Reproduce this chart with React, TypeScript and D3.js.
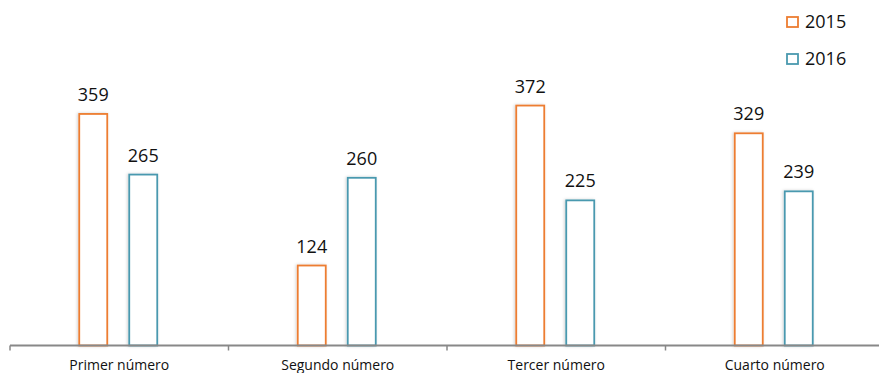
import React from "react";
import * as d3 from "d3";

const categories = ["Primer número", "Segundo número", "Tercer número", "Cuarto número"];
const seriesNames = ["2015", "2016"];
const values2015 = [359, 124, 372, 329];
const values2016 = [265, 260, 225, 239];
const seriesColors = ["#ED7D31", "#4A99AF"];

const W = 879;
const H = 373;
const baseY = 345.5;
const FONT = "'Open Sans', 'DejaVu Sans', sans-serif";

export default function App() {
  const seriesValues = [values2015, values2016];

  const x = d3.scaleBand<string>().domain(categories).range([10, 884]).padding(0);
  const xSub = d3
    .scaleBand<string>()
    .domain(seriesNames)
    .range([-40, 38])
    .paddingInner(0.44)
    .paddingOuter(0);
  const y = d3.scaleLinear().domain([0, 400]).range([baseY, 87.5]);

  const tickXs = categories.map((c) => x(c) as number).concat([x.range()[1]]);

  return (
    <svg
      width={W}
      height={H}
      style={{ position: "absolute", left: 0, top: 0, background: "#fff" }}
    >
      <defs>
        <filter id="barShadow" x="-30%" y="-10%" width="160%" height="120%">
          <feDropShadow dx="-1" dy="0" stdDeviation="1.5" floodColor="#000" floodOpacity="0.18" />
        </filter>
      </defs>

      {categories.map((cat, ci) => {
        const cx = (x(cat) as number) + x.bandwidth() / 2;
        return (
          <g key={cat}>
            {seriesNames.map((s, si) => {
              const v = seriesValues[si][ci];
              const bx = cx + (xSub(s) as number);
              const by = y(v);
              return (
                <g key={s}>
                  <rect
                    x={bx}
                    y={by}
                    width={xSub.bandwidth()}
                    height={baseY - by}
                    fill="#fff"
                    stroke={seriesColors[si]}
                    strokeWidth={1.8}
                    filter="url(#barShadow)"
                  />
                  <text
                    x={bx + xSub.bandwidth() / 2}
                    y={by - 13}
                    textAnchor="middle"
                    fontFamily={FONT}
                    fontSize={18}
                    fill="#111"
                  >
                    {v}
                  </text>
                </g>
              );
            })}
            <text
              x={cx}
              y={370}
              textAnchor="middle"
              fontFamily={FONT}
              fontSize={14}
              fill="#111"
            >
              {cat}
            </text>
          </g>
        );
      })}

      <line x1={10} x2={W} y1={baseY} y2={baseY} stroke="#888" strokeWidth={2} />
      {tickXs.map((tx, i) => (
        <line key={i} x1={tx} x2={tx} y1={baseY} y2={baseY + 5} stroke="#888" strokeWidth={1.5} />
      ))}

      {seriesNames.map((s, i) => (
        <g key={s} transform={`translate(787, ${17 + i * 37})`}>
          <rect x={0} y={0} width={11} height={10} fill="#fff" stroke={seriesColors[i]} strokeWidth={1.8} />
          <text x={18} y={10.5} fontFamily={FONT} fontSize={18} fill="#111">
            {s}
          </text>
        </g>
      ))}
    </svg>
  );
}
